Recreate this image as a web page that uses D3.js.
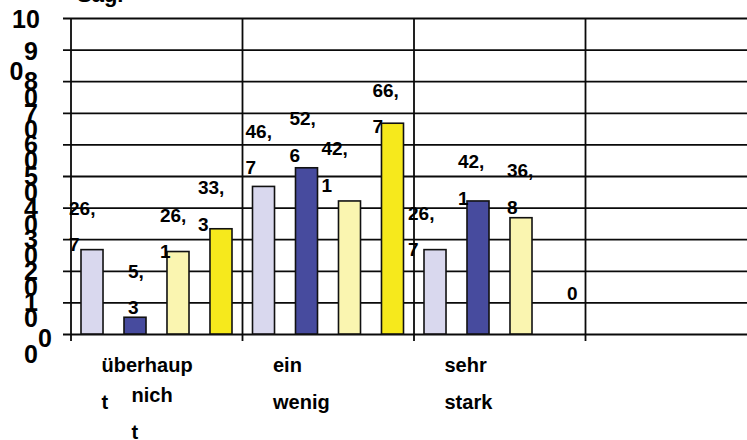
<!DOCTYPE html>
<html><head><meta charset="utf-8">
<script src="https://cdn.jsdelivr.net/npm/d3@7"></script>
<style>
body{margin:0;background:#fff;overflow:hidden}
text{font-family:"Liberation Sans",Arial,sans-serif;font-weight:bold;fill:#000}
</style>
</head><body><svg id="c" width="747" height="440"></svg>
<script>
// ---- data ----
const categories = ["überhaupt nicht", "ein wenig", "sehr stark", ""];
const seriesNames = ["Reihe 1", "Reihe 2", "Reihe 3", "Reihe 4"];
const series1 = [26.7, 46.7, 26.7, null];
const series2 = [5.3, 52.6, 42.1, null];
const series3 = [26.1, 42.1, 36.8, null];
const series4 = [33.3, 66.7, 0, null];
const yTicks = [0, 10, 20, 30, 40, 50, 60, 70, 80, 90, 100];
const categoryLines = [[["überhaup", "t"], ["nich", "t"]], [["ein", "wenig"]], [["sehr", "stark"]], []];
const titleText = "Sag.";

// ---- styles / layout ----
const colors = ["#d9d8ee", "#474b9e", "#faf5b0", "#f6e91c"];
const labelDx = [[-12, 4, -7, -12], [-7, -6, -17, -9], [-16, -9, -3, 14]];
const labelDy = [[-5, -10, 0, -5], [-19, -13, -16, 3], [0, -3, -11, -41]];

const allSeries = [series1, series2, series3, series4];
const svg = d3.select("#c");
const plotLeft = 71, plotTop = 18, plotBottom = 334, bandW = 171.5;

const x0 = d3.scaleBand().domain(categories).range([plotLeft, plotLeft + bandW * categories.length]).padding(0);
const x1 = d3.scaleBand().domain(seriesNames).range([10, 161]).paddingInner(0.488).paddingOuter(0);
const y = d3.scaleLinear().domain([0, 100]).range([plotBottom, plotTop]);

// title (mostly cut off at top)
svg.append("text").attr("x", 77).attr("y", 2).attr("font-size", 22).text(titleText);

// horizontal gridlines via axis
const yAxis = svg.append("g").attr("transform", `translate(${plotLeft},0)`)
  .call(d3.axisLeft(y).tickValues(yTicks).tickSizeInner(-(747 - plotLeft)).tickSizeOuter(0).tickFormat(""));
yAxis.select(".domain").remove();
yAxis.selectAll(".tick line").attr("x1", -8).attr("stroke", "#0a0a0a").attr("stroke-width", 1.8);

// vertical separators
svg.append("g").selectAll("line").data(categories).join("line")
  .attr("x1", d => x0(d)).attr("x2", d => x0(d))
  .attr("y1", y(100)).attr("y2", plotBottom + 7)
  .attr("stroke", "#0a0a0a").attr("stroke-width", 1.8);

// bars
const barData = [];
categories.forEach((c, ci) => {
  allSeries.forEach((s, si) => {
    if (s[ci] !== null) barData.push({c, ci, si, v: s[ci]});
  });
});
svg.append("g").selectAll("rect").data(barData.filter(d => d.v > 0)).join("rect")
  .attr("x", d => x0(d.c) + x1(seriesNames[d.si]))
  .attr("width", x1.bandwidth())
  .attr("y", d => y(d.v))
  .attr("height", d => plotBottom - y(d.v))
  .attr("fill", d => colors[d.si])
  .attr("stroke", "#111").attr("stroke-width", 1.6);

// value labels (wrapped after the comma)
const fmt = v => String(v).replace(".", ",");
const lg = svg.append("g").attr("font-size", 19);
barData.forEach(d => {
  const s = fmt(d.v);
  const parts = s.includes(",") ? [s.slice(0, s.indexOf(",") + 1), s.slice(s.indexOf(",") + 1)] : [s];
  const bx = x0(d.c) + x1(seriesNames[d.si]) + labelDx[d.ci][d.si];
  const base2 = y(d.v) + labelDy[d.ci][d.si] + 6.8;
  parts.forEach((p, i) => {
    lg.append("text").attr("x", bx)
      .attr("y", base2 - (parts.length - 1 - i) * 36.5)
      .text(p);
  });
});

// y tick labels (wrapped)
const yl = svg.append("g").attr("font-size", 25).attr("text-anchor", "middle");
yTicks.forEach(v => {
  const s = String(v);
  const yy = y(v);
  if (v === 100) {
    yl.append("text").attr("x", 26).attr("y", yy + 10).text(s.slice(0, 2));
  } else if (v === 90) {
    yl.append("text").attr("x", 31).attr("y", yy + 10).text(s[0]);
    yl.append("text").attr("x", 16.5).attr("y", yy + 30).text(s[1]);
  } else if (v === 0) {
    yl.append("text").attr("x", 45).attr("y", yy + 12.5).text(s);
    yl.append("text").attr("x", 31).attr("y", yy + 29).text(s);
  } else {
    yl.append("text").attr("x", 31).attr("y", yy + 9).text(s[0]);
    yl.append("text").attr("x", 31).attr("y", yy + 25).text(s[1]);
  }
});

// category labels
const cl = svg.append("g").attr("font-size", 20);
categories.forEach((c, ci) => {
  categoryLines[ci].forEach((block, bi) => {
    block.forEach((line, li) => {
      cl.append("text")
        .attr("x", x0(c) + 30.5 + bi * 30)
        .attr("y", 372 + bi * 30 + li * 37)
        .text(line);
    });
  });
});
</script>
</body></html>
